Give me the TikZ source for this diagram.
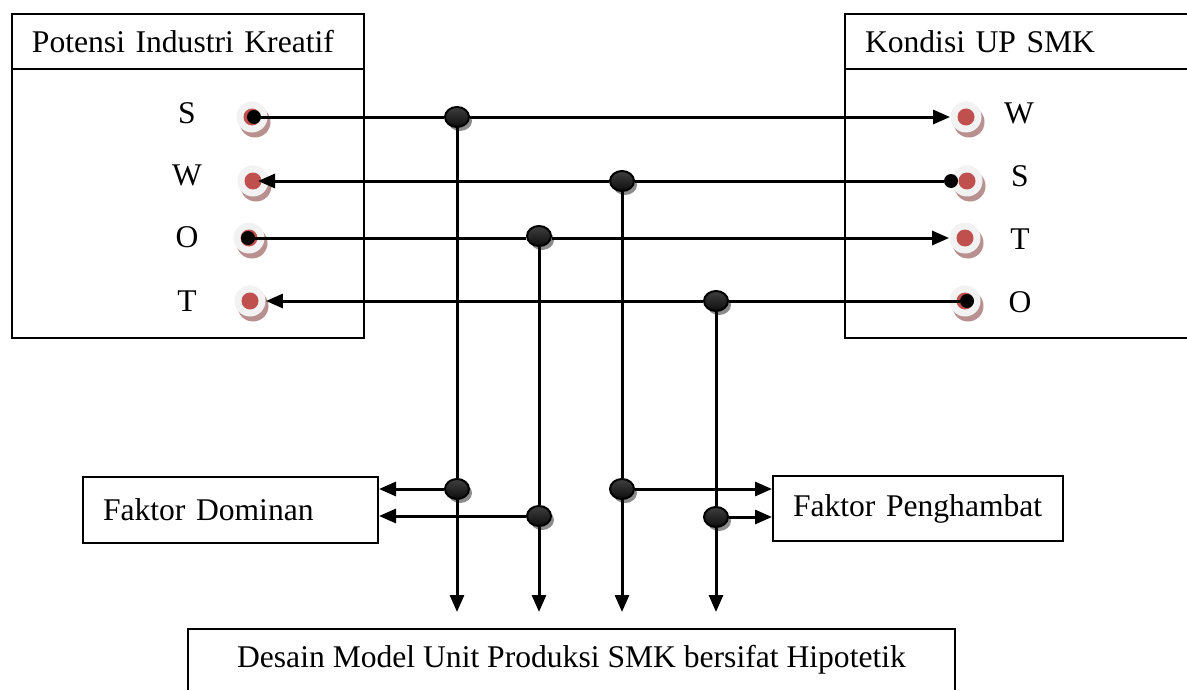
\documentclass[tikz,border=0pt]{standalone}
\usepackage{fontspec}
\setmainfont{Liberation Serif}
\usetikzlibrary{shapes.geometric,shadows,arrows.meta}
\definecolor{portred}{HTML}{C0504D}
\definecolor{portshade}{HTML}{B89090}
\definecolor{portwhite}{HTML}{F2F2F2}
\tikzset{
  boxline/.style={line width=1pt},
  txt/.style={inner sep=0pt},
  port/.style={circle,inner sep=0pt,minimum size=15.5pt,fill=portwhite,
    drop shadow={shadow xshift=1.5pt,shadow yshift=-2.5pt,fill=portshade,opacity=1},
    path picture={\fill[portred] (path picture bounding box.center) circle (4.25pt);}},
  tail/.style={circle,inner sep=0pt,minimum size=7pt,fill=black},
  junction/.style={ellipse,draw,line width=1pt,inner sep=0pt,minimum width=12pt,minimum height=10pt,
    top color=black!75,middle color=black!45,bottom color=black!95,
    drop shadow={shadow xshift=1.5pt,shadow yshift=-2pt,fill=black!45,opacity=1}},
  link/.style={line width=1.5pt},
  arr/.style={link,-{Triangle[length=8.5pt,width=7pt]}},
}
\begin{document}
\begin{tikzpicture}[x=0.5pt,y=-0.5pt,font=\fontsize{15.8}{19}\selectfont]
  \useasboundingbox (0,0) rectangle (1187,690);
  % Potensi Industri Kreatif
  \node[draw,boxline,anchor=north west,outer sep=0pt,minimum width=176pt,minimum height=27.5pt,
    inner xsep=10pt,text width=156pt,align=left] (potensi) at (12,14) {Potensi Industri Kreatif};
  \node[draw,boxline,anchor=north west,outer sep=0pt,minimum width=176pt,minimum height=134.5pt] (potensibody) at (potensi.south west) {};
  % Kondisi UP SMK, open at the right
  \node[anchor=north west,outer sep=0pt,minimum width=171pt,minimum height=27.5pt,
    inner xsep=10pt,text width=151pt,align=left] (kondisi) at (845,14) {Kondisi UP SMK};
  \node[anchor=north west,outer sep=0pt,minimum width=171pt,minimum height=134.5pt] (kondisibody) at (kondisi.south west) {};
  \draw[boxline] (kondisi.north east) -- (kondisi.north west) -- (kondisibody.south west) -- (kondisibody.south east);
  \draw[boxline] (kondisi.south west) -- (kondisi.south east);

  \node[txt,anchor=base] (lslbl) at (187,123) {S};
  \node[txt,anchor=base] (lwlbl) at (187,185) {W};
  \node[txt,anchor=base] (lolbl) at (187,247) {O};
  \node[txt,anchor=base] (ltlbl) at (187,311) {T};
  \node[txt,anchor=base] (rwlbl) at (1019,123) {W};
  \node[txt,anchor=base] (rslbl) at (1020,186) {S};
  \node[txt,anchor=base] (rtlbl) at (1020,249) {T};
  \node[txt,anchor=base] (rolbl) at (1020,312) {O};

  \node[port] (ls) at (252,117) {};
  \node[port] (lw) at (253,181) {};
  \node[port] (lo) at (249,238) {};
  \node[port] (lt) at (250,301) {};
  \node[port] (rw) at (966,117) {};
  \node[port] (rs) at (967,181) {};
  \node[port] (rt) at (965,238) {};
  \node[port] (ro) at (965,301) {};
  \node[tail] (lsdot) at (254,117) {};
  \node[tail] (lodot) at (248,238) {};
  \node[tail] (rsdot) at (951,181) {};
  \node[tail] (rodot) at (967,301) {};

  \node[junction] (j1) at (457,117) {};
  \node[junction] (j2) at (622,181) {};
  \node[junction] (j3) at (539,236) {};
  \node[junction] (j4) at (716,301) {};
  \node[junction] (k1) at (457,489) {};
  \node[junction] (k2) at (539,516) {};
  \node[junction] (k3) at (622,489) {};
  \node[junction] (k4) at (716,517) {};

  \node[draw,boxline,anchor=north west,minimum width=147.5pt,minimum height=33pt,
    inner xsep=10pt,text width=127.5pt,align=left] (dominan) at (82,476) {Faktor Dominan};
  \node[draw,boxline,anchor=north west,minimum width=145pt,minimum height=32.5pt,
    inner xsep=10pt,text width=125pt,align=left] (penghambat) at (772,475) {Faktor Penghambat};
  % bottom box runs off the page
  \node[anchor=north west,outer sep=0pt,inner sep=0pt,minimum width=383.5pt,minimum height=30.5pt] (desain) at (188,629) {Desain Model Unit Produksi SMK bersifat Hipotetik};
  \draw[boxline] (desain.south west) -- (desain.north west) -- (desain.north east) -- (desain.south east);

  \draw[link] (lsdot) -- (j1);
  \draw[arr] (j1) -- (rw);
  \draw[link] (rsdot) -- (j2);
  \draw[arr,shorten >=2.5pt] (j2) -- (lw.center);
  \draw[link] (lodot) -- (lodot -| j3.west);
  \draw[arr] (lodot -| j3.east) -- (rt);
  \draw[link] (rodot) -- (j4);
  \draw[arr] (j4) -- (lt);

  \draw[link] (j1) -- (k1);
  \draw[link] (j2) -- (k3);
  \draw[link] (j3) -- (k2);
  \draw[link] (j4) -- (k4);
  \draw[arr,shorten >=8.5pt] (k1) -- (k1 |- desain.north);
  \draw[arr,shorten >=8.5pt] (k2) -- (k2 |- desain.north);
  \draw[arr,shorten >=8.5pt] (k3) -- (k3 |- desain.north);
  \draw[arr,shorten >=8.5pt] (k4) -- (k4 |- desain.north);
  \draw[arr] (k1) -- (k1 -| dominan.east);
  \draw[arr] (k2) -- (k2 -| dominan.east);
  \draw[arr] (k3) -- (k3 -| penghambat.west);
  \draw[arr] (k4) -- (k4 -| penghambat.west);
\end{tikzpicture}
\end{document}
